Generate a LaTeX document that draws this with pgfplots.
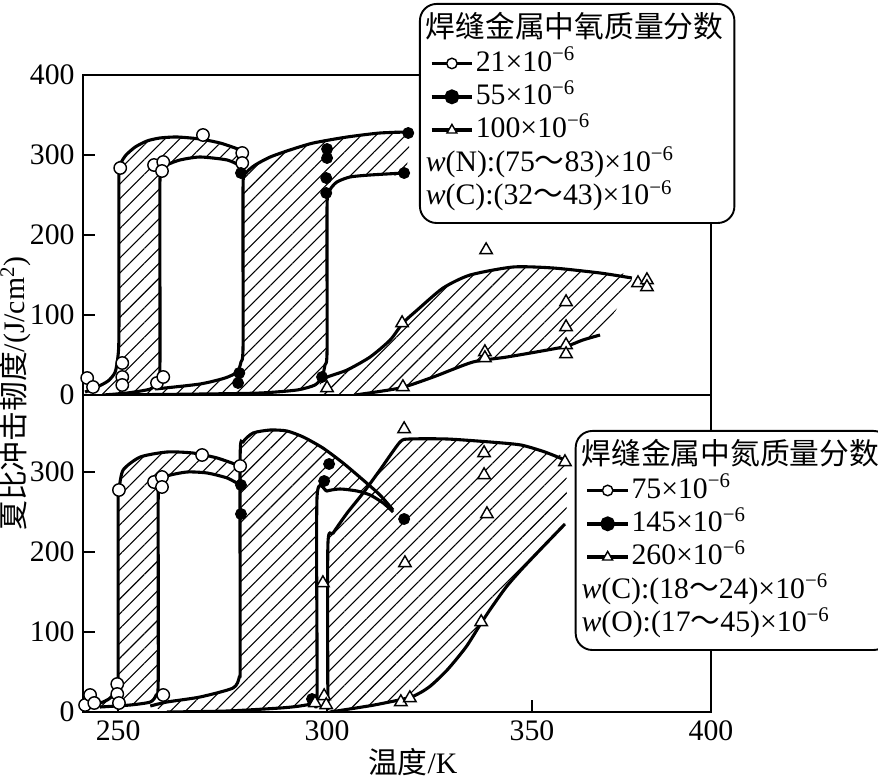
\documentclass[border=0pt]{standalone}
\usepackage{fontspec}
\setmainfont{Liberation Serif}
\newfontfamily\cjk{Noto Sans CJK SC}
\usepackage{pgfplots}
\pgfplotsset{compat=1.18}
\usetikzlibrary{patterns.meta}

\pgfplotsset{
  panel/.style={
    scale only axis, width=263.76pt,
    xmin=241.6, xmax=400,
    x coord trafo/.code={\pgfmathparse{min(118+(##1-250)*4.18,327+(##1-300)*4.1,532+(##1-350)*3.58)}},
    x coord inv trafo/.code={\pgfmathparse{max(250+(##1-118)/4.18,300+(##1-327)/4.1,350+(##1-532)/3.58)}},
    axis line style={line width=0.8pt},
    every tick/.style={black, line width=0.8pt},
    tick align=inside, major tick length=5pt,
    tick pos=left,
    /pgf/number format/assume math mode=true,
    tick label style={font=\fontsize{12.5}{14}\selectfont},
    clip=true,
  },
  hatch/.style={draw=none, pattern={Lines[angle=45,distance=4.4pt,line width=0.45pt]}, smooth, tension=0.4, forget plot},
  bd/.style={black, line width=1.3pt, smooth, tension=0.4, no markers, forget plot},
  ocirc/.style={only marks, mark=*, mark size=2.6pt, mark options={fill=white, draw=black, line width=0.6pt}, forget plot},
  fcirc/.style={only marks, mark=*, mark size=2.3pt, mark options={fill=black, draw=black}, forget plot},
  otri/.style={only marks, mark=triangle*, mark size=3pt, mark options={fill=white, draw=black, line width=0.6pt}, forget plot},
  leg/.style={legend cell align=left, legend style={rounded corners=7pt, draw=black, line width=0.8pt, fill=white,
     font=\fontsize{12.5}{14}\selectfont, inner sep=4pt, row sep=0pt,
     nodes={text height=9.6pt, text depth=3.2pt, inner sep=0.6pt}}},
}

\begin{document}
\begin{tikzpicture}
\useasboundingbox (0,0) rectangle (368.76pt,326.76pt);

% ---------------- top panel: oxygen ----------------
\begin{axis}[panel, at={(34.86pt,160.86pt)}, anchor=south west,
  height=134.4pt, ymin=0, ymax=400, ytick={0,100,200,300,400}, xtick=\empty,
  leg, legend style={at={(axis description cs:0.535,1.225)}, anchor=north west}]
% hatched bands
\addplot[hatch] coordinates {(242.1,3.75) (244.5,8.75) (247.6,17.5) (249.3,28.75) (250.0,50) (250.2,81.25) (250.2,275) (250.7,290) (251.9,300) (254.1,310) (256.9,317.5) (260,321.25) (264.1,322.5) (269.6,320) (274.4,315) (278.0,308.75) (280.4,303.75)
 (279.9,278.75) (279.2,286.25) (276.1,293.75) (269.6,297.5) (264.8,293.75) (261.7,287.5) (260.5,278.75) (260,262.5) (260,33.75) (259.3,16.25) (257.7,7.5) (252.2,2.5) (246.4,0)};
\addplot[hatch] coordinates {(258.9,7.5) (269.6,13.75) (275.6,21.25) (278.5,28.75) (279.4,41.25) (279.9,62.5) (279.9,262.5) (280.6,277.5) (282.8,287.5) (286.4,297.5) (291.1,306.25) (296.7,315) (304.9,322.5) (312.9,327.5) (319.8,328.75)
 (318.8,277.5) (310.5,275) (305.6,272.5) (302.4,266.25) (300.7,256.25) (300,237.5) (300,56.25) (299.5,37.5) (298.8,22.5) (297.1,12.5) (292.8,6.25) (284.0,2.5) (270.3,1.25) (247.4,0)};
\addplot[hatch] coordinates {(298.3,18.75) (300.7,23.75) (304.9,31.25) (310.5,47.5) (315.4,68.75) (318.5,90) (322.0,106.25) (328.3,133.75) (334.9,150) (345.4,160) (355.9,158.75) (369.0,152.5) (377.9,146.25)
 (369.0,75) (364.2,68.75) (358.7,60) (343.9,47.5) (335.6,41.25) (325.9,22.5) (317.8,8.75) (306.8,0) (298.3,0)};
% boundary curves
\addplot[bd] coordinates {(242.1,3.75) (244.5,8.75) (247.6,17.5) (249.3,28.75) (250.0,50) (250.2,81.25) (250.2,275) (250.7,290) (251.9,300) (254.1,310) (256.9,317.5) (260,321.25) (264.1,322.5) (269.6,320) (274.4,315) (278.0,308.75) (280.4,303.75)};
\addplot[bd] coordinates {(246.4,0) (252.2,2.5) (257.7,7.5) (259.3,16.25) (260,33.75) (260,262.5) (260.5,278.75) (261.7,287.5) (264.8,293.75) (269.6,297.5) (276.1,293.75) (279.2,286.25) (279.9,278.75)};
\addplot[bd] coordinates {(258.9,7.5) (269.6,13.75) (275.6,21.25) (278.5,28.75) (279.4,41.25) (279.9,62.5) (279.9,262.5) (280.6,277.5) (282.8,287.5) (286.4,297.5) (291.1,306.25) (296.7,315) (304.9,322.5) (312.9,327.5) (319.8,328.75)};
\addplot[bd] coordinates {(247.4,0) (270.3,1.25) (284.0,2.5) (292.8,6.25) (297.1,12.5) (298.8,22.5) (299.5,37.5) (300,56.25) (300,237.5) (300.7,256.25) (302.4,266.25) (305.6,272.5) (310.5,275) (318.8,277.5)};
\addplot[bd] coordinates {(298.3,18.75) (300.7,23.75) (304.9,31.25) (310.5,47.5) (315.4,68.75) (318.5,90) (322.0,106.25) (328.3,133.75) (334.9,150) (345.4,160) (355.9,158.75) (369.0,152.5) (377.9,146.25)};
\addplot[bd] coordinates {(306.8,0) (317.8,8.75) (325.9,22.5) (335.6,41.25) (343.9,47.5) (358.7,60) (364.2,68.75) (369.0,75)};
% data points
\addplot[ocirc] coordinates {(241.6,8.75) (242.6,21.25) (244.0,10) (250.5,283.75) (251.0,40) (251.0,22.5) (251.0,12.5) (258.6,287.5) (260.8,291.25) (260.5,280) (259.3,15) (260.8,22.5) (270.3,325) (279.7,302.5) (279.7,290)};
\addplot[fcirc] coordinates {(279.4,277.5) (279.0,27.5) (278.7,15) (300,307.5) (300,296.25) (299.8,271.25) (299.8,252.5) (319.8,327.5) (318.8,277.5) (298.8,22.5)};
\addplot[otri] coordinates {(338.8,181.25) (318.3,90) (359.5,116.25) (359.5,85) (359.5,62.5) (359.5,51.25) (338.5,53.75) (338.5,46.25) (318.5,10) (379.6,140) (382.1,143.75) (382.1,135) (300,8.75)};
% legend
\addlegendimage{empty legend}
\addlegendentry{\hspace*{-21pt}{\cjk 焊缝金属中氧质量分数}}
\addlegendimage{black, line width=1.4pt, mark=*, mark size=2.2pt, mark options={fill=white, line width=0.6pt}}
\addlegendentry{21×10\textsuperscript{−6}}
\addlegendimage{black, line width=1.8pt, mark=*, mark size=2.2pt}
\addlegendentry{55×10\textsuperscript{−6}}
\addlegendimage{black, line width=1.4pt, mark=triangle*, mark size=2.4pt, mark options={fill=white, line width=0.6pt}}
\addlegendentry{100×10\textsuperscript{−6}}
\addlegendimage{empty legend}
\addlegendentry{\hspace*{-21pt}\textit{w}(N):(75{\cjk ～}83)×10\textsuperscript{−6}}
\addlegendimage{empty legend}
\addlegendentry{\hspace*{-21pt}\textit{w}(C):(32{\cjk ～}43)×10\textsuperscript{−6}}
\end{axis}

% ---------------- bottom panel: nitrogen ----------------
\begin{axis}[panel, at={(34.86pt,27.72pt)}, anchor=south west,
  height=133.14pt, ymin=0, ymax=396.25, ytick={0,100,200,300},
  xtick={250,300,350,400}, xticklabels={250,300,350,400},
  xlabel={{\cjk 温度}/K}, xlabel style={font=\fontsize{12.5}{14}\selectfont, at={(axis description cs:0.525,-0.158)}, anchor=center},
  ylabel={{\cjk 夏比冲击韧度}/(J/cm\textsuperscript{2})}, ylabel style={font=\fontsize{12.5}{14}\selectfont, at={(axis description cs:-0.108,1.005)}, anchor=center},
  leg, legend style={at={(axis description cs:0.783,0.8896)}, anchor=north west}]
\addplot[hatch] coordinates {(242.1,8.75) (245.7,11.25) (248.1,17.5) (249.8,31.25) (250,52.5) (250,265) (250.2,277.5) (251.2,302.5) (255.3,318.75) (261.7,325) (267.9,323.75) (273.7,317.5) (279.2,307.5)
 (279.2,283.75) (276.1,292.5) (271.3,298.75) (266.5,300) (261.7,295) (260,286.25) (259.6,271.25) (259.6,40) (259.1,21.25) (257.7,12.5) (252.9,8.75) (245.7,6.25)};
\addplot[hatch] coordinates {(257.7,7.5) (261.7,12.5) (269.6,18.75) (277.5,30) (279,43.75) (279.2,65) (279.2,318.75) (279.9,337.5) (282.3,348.75) (286.4,352.5) (290.4,351.25) (294.3,343.75) (299,330) (303.9,311.25) (308.8,290) (312.9,271.25) (316.1,252.5)
 (316.1,250) (313.7,261.25) (310.5,271.25) (307.3,276.25) (303.2,278.75) (300,276.25) (297.6,268.75) (297.6,22) (296.7,11.25) (293.5,7.5) (288.8,5) (276.1,1.25) (261.7,0)};
\addplot[hatch] coordinates {(300.2,2.5) (300.2,208.75) (301.5,223.75) (304.9,248.75) (308.8,273.75) (312.9,302.5) (317.8,337.5) (320.2,341.25) (329.3,341.25) (339.8,337.5) (347.3,333.75) (353.6,325) (359.2,315)
 (359.2,235) (352.2,202.5) (347.3,177.5) (343.7,156.25) (340.2,131.25) (337.6,111.25) (333.9,81.25) (329.3,52.5) (324.9,31.25) (320.5,18.75) (311.5,8.75) (300.7,0)};
\addplot[bd] coordinates {(242.1,8.75) (245.7,11.25) (248.1,17.5) (249.8,31.25) (250,52.5) (250,265) (250.2,277.5) (251.2,302.5) (255.3,318.75) (261.7,325) (267.9,323.75) (273.7,317.5) (279.2,307.5)};
\addplot[bd] coordinates {(245.7,6.25) (252.9,8.75) (257.7,12.5) (259.1,21.25) (259.6,40) (259.6,271.25) (260,286.25) (261.7,295) (266.5,300) (271.3,298.75) (276.1,292.5) (279.2,283.75)};
\addplot[bd] coordinates {(257.7,7.5) (261.7,12.5) (269.6,18.75) (277.5,30) (279,43.75) (279.2,65) (279.2,318.75) (279.9,337.5) (282.3,348.75) (286.4,352.5) (290.4,351.25) (294.3,343.75) (299,330) (303.9,311.25) (308.8,290) (312.9,271.25) (316.1,252.5)};
\addplot[bd] coordinates {(261.7,0) (276.1,1.25) (288.8,5) (293.5,7.5) (296.7,11.25) (297.6,22) (297.6,268.75) (300,276.25) (303.2,278.75) (307.3,276.25) (310.5,271.25) (313.7,261.25) (316.1,250)};
\addplot[bd] coordinates {(300.2,2.5) (300.2,208.75) (301.5,223.75) (304.9,248.75) (308.8,273.75) (312.9,302.5) (317.8,337.5) (320.2,341.25) (329.3,341.25) (339.8,337.5) (347.3,333.75) (353.6,325) (359.2,315)};
\addplot[bd] coordinates {(300.7,0) (311.5,8.75) (320.5,18.75) (324.9,31.25) (329.3,52.5) (333.9,81.25) (337.6,111.25) (340.2,131.25) (343.7,156.25) (347.3,177.5) (352.2,202.5) (359.2,235)};
\addplot[ocirc] coordinates {(242.1,8.75) (243.3,21.25) (244.3,11.25) (249.8,35) (249.8,22.5) (250.2,11.25) (250.2,277.5) (258.6,287.5) (260.5,293.75) (260.5,281.25) (260.8,21.25) (270.1,321.25) (279.2,307.5)};
\addplot[fcirc] coordinates {(279.4,283.75) (279.4,247.5) (300.5,310) (299.3,288.75) (318.8,241.25) (296.4,16.25)};
\addplot[otri] coordinates {(318.8,353.75) (338.3,323.75) (338.3,296.25) (339.0,247.5) (319.0,186.25) (299.0,161.25) (337.6,112.5) (359.2,312.5) (318.0,12.5) (320.2,17.5) (297.1,11.25) (299.3,20) (299.8,8.75)};
\addlegendimage{empty legend}
\addlegendentry{\hspace*{-21pt}{\cjk 焊缝金属中氮质量分数}}
\addlegendimage{black, line width=1.4pt, mark=*, mark size=2.2pt, mark options={fill=white, line width=0.6pt}}
\addlegendentry{75×10\textsuperscript{−6}}
\addlegendimage{black, line width=1.8pt, mark=*, mark size=2.2pt}
\addlegendentry{145×10\textsuperscript{−6}}
\addlegendimage{black, line width=1.4pt, mark=triangle*, mark size=2.4pt, mark options={fill=white, line width=0.6pt}}
\addlegendentry{260×10\textsuperscript{−6}}
\addlegendimage{empty legend}
\addlegendentry{\hspace*{-21pt}\textit{w}(C):(18{\cjk ～}24)×10\textsuperscript{−6}}
\addlegendimage{empty legend}
\addlegendentry{\hspace*{-21pt}\textit{w}(O):(17{\cjk ～}45)×10\textsuperscript{−6}}
\end{axis}
\end{tikzpicture}
\end{document}
